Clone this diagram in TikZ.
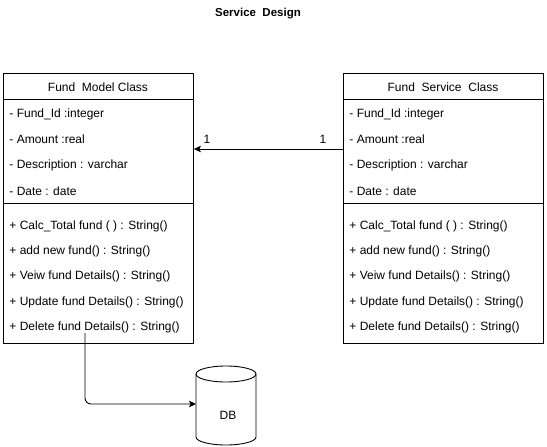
\documentclass[tikz,border=0pt]{standalone}
\usepackage{fontspec}
\setmainfont{Liberation Sans}
\usetikzlibrary{shapes.geometric,arrows.meta,positioning}

\begin{document}
\begin{tikzpicture}[x=1pt,y=-1pt,line width=0.9pt,font=\fontsize{12}{14}\selectfont]
    \useasboundingbox (0,0) rectangle (547,447);
    \node[font=\bfseries\fontsize{11.5}{13}\selectfont] (title) at (258,14) {Service\ \ Design};
    %% the two class boxes
    \node[draw,anchor=north west,inner sep=0,minimum width=190,minimum height=270] (model) at (3,73) {};
    \node[draw,anchor=north west,inner sep=0,minimum width=200,minimum height=270] (service) at (343,73) {};
    \draw ([yshift=-26pt]model.north west) -- ([yshift=-26pt]model.north east);
    \draw ([yshift=-130pt]model.north west) -- ([yshift=-130pt]model.north east);
    \draw ([yshift=-26pt]service.north west) -- ([yshift=-26pt]service.north east);
    \draw ([yshift=-130pt]service.north west) -- ([yshift=-130pt]service.north east);
    \node (modelhead) at (98,87) {Fund\ \ Model Class};
    \node (servicehead) at (443,87) {Fund\ \ Service\ \ Class};
    %% attributes and methods, same list in both boxes
    \foreach \t [count=\i] in {{- Fund\_Id :integer},{- Amount :real},{- Description : varchar},{- Date : date}}{
        \node[anchor=west,inner sep=0] (model-a\i) at (9,114+25.6*\i-25.6) {\t};
        \node[anchor=west,inner sep=0] (service-a\i) at (349,114+25.6*\i-25.6) {\t};
    }
    \foreach \t [count=\i] in {{+ Calc\_Total fund ( ) : String()},{+ add new fund() : String()},{+ Veiw fund Details() : String()},{+ Update fund Details() : String()},{+ Delete fund Details() : String()}}{
        \node[anchor=west,inner sep=0] (model-m\i) at (9,226+25.3*\i-25.3) {\t};
        \node[anchor=west,inner sep=0] (service-m\i) at (349,226+25.3*\i-25.3) {\t};
    }
    %% association
    \draw[-{Stealth[length=7pt,width=6.5pt,inset=1.5pt]}] (service.west |- 0,149) -- (model.east |- 0,149);
    \node (one-left) at (207,139) {1};
    \node (one-right) at (323,139) {1};
    %% database cylinder
    \draw (226,374) ellipse [x radius=30,y radius=8];
    \draw (196,374) -- (196,437) arc[start angle=180,end angle=0,x radius=30,y radius=8] -- (256,374);
    \node (db) at (228,415) {DB};
    \coordinate (dbleft) at (196,404);
    \coordinate (src) at (85,333);
    \draw[rounded corners=6,-{Stealth[length=7pt,width=6.5pt,inset=1.5pt]}] (src) -- (src |- dbleft) -- (dbleft);
\end{tikzpicture}
\end{document}
